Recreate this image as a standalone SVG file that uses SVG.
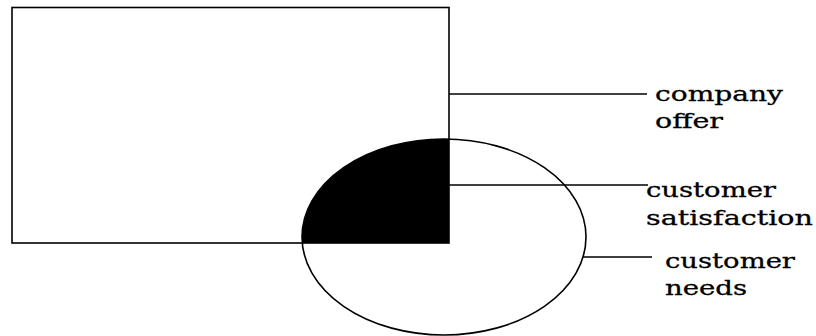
<svg xmlns="http://www.w3.org/2000/svg" width="816" height="336" viewBox="0 0 816 336">
<style>
.shape{fill:none;stroke:#000;stroke-width:1.6}
.ln{stroke:#000;stroke-width:1.5;fill:none}
.lbl{font-family:"DejaVu Serif","Liberation Serif",serif;font-size:20px;fill:#000;stroke:#000;stroke-width:0.3}
</style>
<rect width="816" height="336" fill="#fff"/>
<g id="company-offer-node">
<rect class="shape" x="12" y="7.5" width="437" height="235.5" stroke-width="2"/>
</g>
<g id="customer-needs-node">
<ellipse class="shape" cx="444" cy="237" rx="142" ry="98"/>
</g>
<g id="customer-satisfaction-node">
<path d="M449,243 L302.3,243 A142,98 0 0 1 449,139.1 Z" fill="#000"/>
</g>
<g id="connectors">
<line class="ln" x1="449" y1="94" x2="647" y2="94"/>
<line class="ln" x1="449" y1="185" x2="648" y2="185"/>
<line class="ln" x1="583" y1="257" x2="652" y2="257"/>
</g>
<g id="labels">
<text class="lbl" x="655" y="101" textLength="128" lengthAdjust="spacingAndGlyphs">company</text>
<text class="lbl" x="655" y="128" textLength="68" lengthAdjust="spacingAndGlyphs">offer</text>
<text class="lbl" x="646" y="197" textLength="130" lengthAdjust="spacingAndGlyphs">customer</text>
<text class="lbl" x="646" y="225" textLength="167" lengthAdjust="spacingAndGlyphs">satisfaction</text>
<text class="lbl" x="665" y="268" textLength="130" lengthAdjust="spacingAndGlyphs">customer</text>
<text class="lbl" x="665" y="295" textLength="82" lengthAdjust="spacingAndGlyphs">needs</text>
</g>
</svg>
